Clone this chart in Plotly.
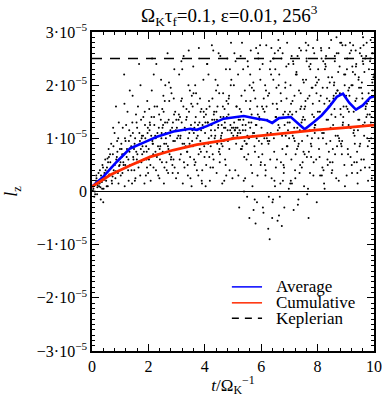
import plotly.graph_objects as go

SCALE = 1e-5

# ---- mean curves (values in units of 1e-5) ----
avg_t = [0, 0.4, 0.88, 1.35, 1.83, 2.3, 2.89, 3.48, 3.72, 4.07, 4.67, 5.03, 5.38, 5.86,
         6.2, 6.39, 6.63, 7.05, 7.54, 7.88, 8.14, 8.41, 8.68, 8.9, 9.12, 9.36, 9.6, 9.87, 10]
avg_v = [0.09, 0.28, 0.56, 0.81, 0.92, 1.03, 1.13, 1.18, 1.16, 1.23, 1.37, 1.40, 1.42, 1.37,
         1.34, 1.29, 1.38, 1.40, 1.17, 1.31, 1.43, 1.59, 1.78, 1.84, 1.67, 1.54, 1.62, 1.77, 1.79]

cum_t = [0, 0.25, 0.64, 1.35, 2.06, 2.89, 3.72, 4.67, 5.03, 6.0, 7.28, 8.0, 9.0, 10]
cum_v = [0.09, 0.18, 0.31, 0.49, 0.65, 0.78, 0.88, 0.96, 1.0, 1.05, 1.12, 1.16, 1.2, 1.25]

keplerian_v = 2.5
t_range = [0, 10]

# ---- particle cloud (units of 1e-5) ----
pA_t = [0.05,0.08,0.12,0.15,0.18,0.22,0.25,0.28,0.31,0.34,0.37,0.41,0.44,0.47,0.5,0.53,0.56,0.59,0.62,0.65,
        0.68,0.71,0.74,0.77,0.8,0.83,0.86,0.89,0.92,0.95,0.98,0.1,0.2,0.3,0.4,0.6,0.7,0.9,0.45,0.85]
pA_y = [0.05,-0.1,0.15,0.3,-0.05,0.2,0.1,0.4,-0.15,0.25,0.5,0.05,0.35,0.6,0.2,0.45,0.1,0.8,0.3,0.55,
        0.9,0.15,0.7,0.4,1.1,0.25,0.6,0.95,0.35,1.3,0.5,0.0,0.12,0.08,-0.2,0.65,0.2,0.75,0.28,1.6]
pB_t = [1.02,1.05,1.09,1.12,1.16,1.19,1.23,1.26,1.3,1.33,1.37,1.4,1.44,1.47,1.51,1.54,1.58,1.61,1.65,1.68,
        1.72,1.75,1.79,1.82,1.86,1.89,1.93,1.96,1.99,1.07,1.21,1.35,1.49,1.63,1.77,1.91,1.14,1.42,1.7,1.98,
        1.28,1.56,1.84,1.11,1.67]
pB_y = [0.3,0.8,1.2,0.5,0.1,0.95,0.65,1.5,0.2,0.75,1.05,0.4,1.8,0.6,0.9,0.25,1.3,0.7,0.45,1.1,
        2.0,0.55,0.85,1.4,0.15,1.0,0.6,1.7,0.35,0.7,1.25,0.5,0.8,1.6,1.05,0.3,2.2,0.15,0.95,1.2,
        0.4,1.45,0.75,0.55,2.4]
pC_t = [2.02,2.05,2.08,2.12,2.15,2.18,2.22,2.25,2.28,2.32,2.35,2.38,2.42,2.45,2.48,2.52,2.55,2.58,2.62,2.65,
        2.68,2.72,2.75,2.78,2.82,2.85,2.88,2.92,2.95,2.98,2.1,2.3,2.5,2.7,2.9,2.2,2.4,2.6,2.8,2.03,
        2.47,2.63,2.87,2.13,2.57]
pC_y = [0.6,1.3,0.2,1.9,0.9,0.45,1.6,0.75,2.4,1.1,0.3,1.45,0.85,2.1,0.55,1.25,0.15,1.7,1.0,0.4,
        2.6,1.35,0.7,1.15,1.85,0.5,0.95,2.3,1.5,0.25,1.05,0.65,1.2,0.35,1.75,1.4,0.8,2.0,0.6,1.55,
        1.1,0.9,1.3,2.5,0.45]
pD_t = [3.02,3.05,3.09,3.12,3.15,3.19,3.22,3.25,3.29,3.32,3.35,3.39,3.42,3.45,3.49,3.52,3.55,3.59,3.62,3.65,
        3.69,3.72,3.75,3.79,3.82,3.85,3.89,3.92,3.95,3.99,3.07,3.27,3.47,3.67,3.87,3.17,3.37,3.57,3.77,3.97,
        3.13,3.53,3.83,3.43,3.63]
pD_y = [1.0,0.35,2.2,1.4,0.7,1.75,0.15,2.55,1.2,0.85,1.55,0.5,2.0,1.1,0.25,1.65,0.95,2.35,0.6,1.3,
        1.85,0.4,1.05,2.7,0.8,1.5,0.2,1.25,2.1,0.65,1.35,0.9,1.9,0.55,1.15,2.45,0.75,1.6,0.3,1.4,
        1.0,0.1,1.75,2.65,1.2]
pE_t = [4.02,4.05,4.08,4.12,4.15,4.18,4.22,4.25,4.28,4.32,4.35,4.38,4.42,4.45,4.48,4.52,4.55,4.58,4.62,4.65,
        4.68,4.72,4.75,4.78,4.82,4.85,4.88,4.92,4.95,4.98,4.1,4.3,4.5,4.7,4.9,4.2,4.4,4.6,4.8,4.03,
        4.23,4.43,4.63,4.83,4.13,4.53,4.73,4.93,4.33,4.57]
pE_y = [1.3,0.5,2.4,0.9,1.7,0.2,1.15,2.75,0.7,1.45,1.0,2.1,0.35,1.6,1.25,0.8,2.55,1.05,0.15,1.85,
        1.2,0.6,2.3,1.4,0.95,1.75,0.4,2.0,1.1,0.25,1.3,2.65,0.75,1.55,1.15,0.45,1.9,1.25,2.5,0.1,
        1.05,1.35,0.85,1.65,2.2,0.55,1.2,2.8,1.5,1.0]
pF_t = [5.02,5.05,5.08,5.12,5.15,5.18,5.22,5.25,5.28,5.32,5.35,5.38,5.42,5.45,5.48,5.52,5.55,5.58,5.62,5.65,
        5.68,5.72,5.75,5.78,5.82,5.85,5.88,5.92,5.95,5.98,5.1,5.3,5.5,5.7,5.9,5.2,5.4,5.6,5.8,5.03,
        5.23,5.43,5.63,5.83,5.13,5.33,5.53,5.73,5.93,5.17,5.47,5.67,5.87,5.27,5.57]
pF_y = [1.2,2.6,0.4,1.6,1.05,2.2,-0.3,1.35,0.8,2.8,1.15,0.2,1.9,1.25,0.6,2.45,1.0,-0.5,1.7,1.3,
        0.35,2.05,1.1,0.75,2.7,-0.2,1.45,0.95,2.3,0.5,1.2,1.8,-0.1,1.05,2.5,1.35,0.65,1.55,-0.6,2.0,
        1.15,0.25,2.65,1.25,1.6,0.85,2.35,-0.35,1.4,1.1,0.9,1.95,0.3,2.55,1.0]
pG_t = [6.02,6.05,6.08,6.12,6.15,6.18,6.22,6.25,6.28,6.32,6.35,6.38,6.42,6.45,6.48,6.52,6.55,6.58,6.62,6.65,
        6.68,6.72,6.75,6.78,6.82,6.85,6.88,6.92,6.95,6.98,6.1,6.3,6.5,6.7,6.9,6.2,6.4,6.6,6.8,6.03,
        6.23,6.43,6.63,6.83,6.13,6.33,6.53,6.73,6.93,6.17,6.47,6.67,6.87,6.27,6.57]
pG_y = [0.9,2.4,-0.4,1.5,0.3,2.75,1.1,-0.7,1.85,0.6,2.2,1.3,-0.15,1.0,2.6,0.45,1.65,-0.55,2.0,1.2,
        0.15,2.5,0.8,1.45,-0.3,1.95,0.7,2.8,1.15,0.05,1.35,-0.9,2.3,0.55,1.75,1.0,-0.2,2.65,0.35,1.6,
        0.95,2.1,-0.45,1.25,0.5,2.45,1.4,-0.65,0.85,1.9,0.2,2.7,1.05,-0.1,1.55]
pH_t = [7.02,7.05,7.08,7.12,7.15,7.18,7.22,7.25,7.28,7.32,7.35,7.38,7.42,7.45,7.48,7.52,7.55,7.58,7.62,7.65,
        7.68,7.72,7.75,7.78,7.82,7.85,7.88,7.92,7.95,7.98,7.1,7.3,7.5,7.7,7.9,7.2,7.4,7.6,7.8,7.03,
        7.23,7.43,7.63,7.83,7.13,7.33,7.53,7.73,7.93,7.17,7.47,7.67,7.87,7.27,7.57]
pH_y = [1.5,0.2,2.55,1.05,-0.35,1.8,0.7,2.25,1.2,-0.15,2.7,0.5,1.6,0.95,2.1,0.1,1.35,2.8,0.65,1.75,
        -0.5,1.15,2.4,0.85,1.95,0.3,2.6,1.25,0.6,2.05,1.45,-0.25,0.75,2.35,1.1,0.4,1.85,2.65,1.0,0.15,
        2.2,1.3,-0.05,1.65,2.45,0.9,1.55,0.35,2.0,1.2,0.55,2.75,1.4,0.8,1.7]
pI_t = [8.02,8.05,8.08,8.12,8.15,8.18,8.22,8.25,8.28,8.32,8.35,8.38,8.42,8.45,8.48,8.52,8.55,8.58,8.62,8.65,
        8.68,8.72,8.75,8.78,8.82,8.85,8.88,8.92,8.95,8.98,8.1,8.3,8.5,8.7,8.9,8.2,8.4,8.6,8.8,8.03,
        8.23,8.43,8.63,8.83,8.13,8.33,8.53,8.73,8.93,8.17,8.47,8.67,8.87,8.27,8.57]
pI_y = [2.3,0.8,1.5,2.7,0.3,1.95,1.1,0.05,2.5,1.35,0.6,2.15,1.7,0.95,2.85,0.4,1.25,2.0,0.7,1.85,
        2.6,1.05,0.2,2.35,1.45,0.85,2.75,1.6,0.5,2.2,1.15,2.55,0.35,1.9,1.3,2.45,0.75,1.55,2.8,1.0,
        0.15,2.05,1.4,0.9,2.65,1.75,0.55,2.25,1.2,0.45,1.65,2.9,0.95,2.4,1.8]
pJ_t = [9.02,9.05,9.08,9.12,9.15,9.18,9.22,9.25,9.28,9.32,9.35,9.38,9.42,9.45,9.48,9.52,9.55,9.58,9.62,9.65,
        9.68,9.72,9.75,9.78,9.82,9.85,9.88,9.92,9.95,9.98,9.1,9.3,9.5,9.7,9.9,9.2,9.4,9.6,9.8,9.03,
        9.23,9.43,9.63,9.83,9.13,9.33,9.53,9.73,9.93,9.17,9.47,9.67,9.87,9.27,9.57]
pJ_y = [1.6,2.5,0.7,1.95,2.8,1.2,0.35,2.25,1.5,0.9,2.65,1.75,0.15,2.1,1.35,2.7,0.6,1.85,2.4,1.05,
        0.45,2.55,1.65,0.85,2.3,1.45,2.85,0.25,1.9,2.15,1.25,0.55,2.6,1.55,1.0,2.0,0.75,2.45,1.7,0.3,
        2.35,1.15,2.75,0.95,1.8,2.2,0.4,1.4,2.6,0.65,1.95,1.3,2.5,1.1,2.05]

# second batch, denser band around the mean
qA_t = [0.03,0.07,0.11,0.14,0.19,0.23,0.27,0.32,0.36,0.39,0.43,0.48,0.52,0.57,0.61,0.64,0.69,0.73,0.76,0.81,
        0.84,0.88,0.93,0.96,0.99,0.16,0.35,0.55,0.75,0.94]
qA_y = [0.02,0.12,-0.05,0.2,0.08,0.35,0.15,0.3,0.05,0.45,0.22,0.4,0.1,0.55,0.32,0.7,0.45,0.28,0.85,0.5,
        0.38,0.65,1.0,0.48,0.8,0.25,0.18,0.62,1.2,0.15]
qB_t = [1.01,1.04,1.08,1.13,1.17,1.2,1.24,1.29,1.32,1.36,1.39,1.43,1.46,1.5,1.53,1.57,1.6,1.64,1.69,1.71,
        1.74,1.78,1.81,1.85,1.88,1.92,1.95,1.97,1.06,1.18,1.31,1.45,1.59,1.73,1.87,1.15,1.34,1.52,1.76,1.94]
qB_y = [0.55,0.9,0.35,0.7,1.0,0.45,0.8,0.6,1.15,0.5,0.85,1.3,0.65,0.4,1.0,0.75,1.2,0.55,0.9,0.3,
        1.35,0.7,1.05,0.6,1.25,0.85,0.45,1.1,0.65,0.5,0.95,1.1,0.6,0.8,1.5,1.65,1.9,0.2,1.0,0.75]
qC_t = [2.01,2.04,2.07,2.11,2.14,2.17,2.21,2.24,2.27,2.31,2.34,2.37,2.41,2.44,2.46,2.51,2.54,2.56,2.61,2.64,
        2.67,2.71,2.74,2.77,2.81,2.84,2.86,2.91,2.94,2.97,2.06,2.16,2.26,2.36,2.49,2.59,2.69,2.79,2.89,2.99,
        2.19,2.39,2.53,2.73,2.93]
qC_y = [0.8,1.15,0.5,1.4,0.95,0.7,1.25,1.05,0.4,1.6,0.85,1.2,0.6,1.35,1.0,0.75,1.5,0.9,1.1,0.55,
        1.3,0.8,1.7,1.05,0.65,1.2,0.35,1.45,0.95,1.15,1.25,0.9,1.0,0.7,1.55,1.3,0.85,1.95,0.6,1.35,
        2.2,0.25,1.8,2.05,0.45]
qD_t = [3.01,3.04,3.08,3.11,3.14,3.18,3.21,3.24,3.28,3.31,3.34,3.38,3.41,3.44,3.48,3.51,3.54,3.58,3.61,3.64,
        3.68,3.71,3.74,3.78,3.81,3.84,3.88,3.91,3.94,3.98,3.06,3.16,3.26,3.36,3.46,3.56,3.66,3.76,3.86,3.96,
        3.2,3.4,3.6,3.8,3.9]
qD_y = [1.2,0.8,1.45,0.6,1.05,1.3,0.9,1.6,0.45,1.15,1.35,0.75,1.0,1.5,0.65,1.25,1.8,0.85,1.1,0.5,
        1.4,1.0,1.65,0.7,1.3,0.95,1.55,0.4,1.2,0.85,1.05,1.7,0.55,1.4,0.9,1.15,2.0,1.25,0.75,1.5,
        2.3,0.3,1.85,2.5,0.15]
qE_t = [4.01,4.04,4.07,4.11,4.14,4.17,4.21,4.24,4.27,4.31,4.34,4.37,4.41,4.44,4.47,4.51,4.54,4.56,4.61,4.64,
        4.67,4.71,4.74,4.77,4.81,4.84,4.87,4.91,4.94,4.97,4.06,4.16,4.26,4.36,4.46,4.59,4.66,4.76,4.86,4.96,
        4.09,4.29,4.49,4.69,4.89]
qE_y = [1.1,1.45,0.75,1.3,1.0,1.6,0.85,1.25,1.75,0.6,1.35,1.05,1.5,0.9,1.2,1.85,0.7,1.4,1.1,1.6,
        0.95,1.3,0.5,1.7,1.15,1.45,0.8,1.25,2.1,1.0,1.55,0.65,1.35,1.15,2.0,0.9,1.4,0.3,1.8,1.2,
        2.4,0.45,2.6,0.2,2.3]
qF_t = [5.01,5.04,5.07,5.11,5.14,5.16,5.21,5.24,5.26,5.31,5.34,5.37,5.41,5.44,5.46,5.51,5.54,5.56,5.61,5.64,
        5.66,5.71,5.74,5.76,5.81,5.84,5.86,5.91,5.94,5.97,5.06,5.19,5.29,5.36,5.49,5.59,5.69,5.79,5.89,5.99,
        5.09,5.39,5.61,5.77,5.96]
qF_y = [1.05,1.3,1.15,0.9,1.4,1.2,1.0,1.55,1.1,0.8,1.25,1.35,0.95,1.15,1.7,1.05,0.7,1.3,1.2,0.5,
        1.45,1.1,1.9,0.85,1.25,1.0,1.6,0.65,1.35,2.1,1.15,0.3,1.5,2.3,0.9,2.0,0.1,1.75,2.6,0.55,
        2.45,0.0,2.2,-0.15,2.75]
qG_t = [6.01,6.04,6.07,6.11,6.14,6.16,6.21,6.24,6.26,6.31,6.34,6.37,6.41,6.44,6.46,6.51,6.54,6.56,6.61,6.64,
        6.66,6.71,6.74,6.76,6.81,6.84,6.86,6.91,6.94,6.97,6.06,6.19,6.29,6.36,6.49,6.59,6.69,6.79,6.89,6.99,
        6.09,6.39,6.61,6.77,6.96]
qG_y = [1.2,0.7,1.55,1.0,2.0,0.4,1.35,1.8,0.9,2.3,1.1,0.25,1.65,2.5,0.75,1.4,1.95,0.6,1.25,2.2,
        -0.1,1.7,1.05,2.6,0.45,1.5,2.05,0.85,1.3,2.4,-0.3,1.6,0.95,2.7,0.1,1.15,1.85,0.5,2.35,1.0,
        1.75,-0.5,2.85,0.2,1.45]
qH_t = [7.01,7.04,7.07,7.11,7.14,7.16,7.21,7.24,7.26,7.31,7.34,7.37,7.41,7.44,7.46,7.51,7.54,7.56,7.61,7.64,
        7.66,7.71,7.74,7.76,7.81,7.84,7.86,7.91,7.94,7.97,7.06,7.19,7.29,7.36,7.49,7.59,7.69,7.79,7.89,7.99,
        7.09,7.39,7.61,7.77,7.96]
qH_y = [1.3,2.0,0.6,1.7,2.4,1.0,0.25,1.5,2.2,0.85,1.9,1.15,2.65,0.45,1.35,2.05,0.7,1.6,2.5,1.05,
        0.05,1.8,2.3,0.9,1.45,2.7,0.55,1.25,2.15,-0.2,1.65,0.95,2.55,0.35,1.4,2.1,0.75,1.95,1.2,2.85,
        0.15,1.55,2.45,0.65,1.85]
qI_t = [8.01,8.04,8.07,8.11,8.14,8.16,8.21,8.24,8.26,8.31,8.34,8.37,8.41,8.44,8.46,8.51,8.54,8.56,8.61,8.64,
        8.66,8.71,8.74,8.76,8.81,8.84,8.86,8.91,8.94,8.97,8.06,8.19,8.29,8.36,8.49,8.59,8.69,8.79,8.89,8.99,
        8.09,8.39,8.61,8.77,8.96]
qI_y = [1.5,2.1,0.65,1.8,2.5,1.1,0.4,1.65,2.3,0.9,1.95,1.35,2.7,0.55,1.2,2.15,0.8,1.75,2.45,1.05,
        0.25,1.9,2.6,1.0,1.55,2.8,0.7,1.4,2.2,0.1,1.7,1.0,2.35,0.5,1.45,2.05,0.85,1.85,1.25,2.75,
        0.3,1.6,2.55,0.95,2.0]
qJ_t = [9.01,9.04,9.07,9.11,9.14,9.16,9.21,9.24,9.26,9.31,9.34,9.37,9.41,9.44,9.46,9.51,9.54,9.56,9.61,9.64,
        9.66,9.71,9.74,9.76,9.81,9.84,9.86,9.91,9.94,9.97,9.06,9.19,9.29,9.36,9.49,9.59,9.69,9.79,9.89,9.99,
        9.09,9.39,9.61,9.77,9.96]
qJ_y = [1.8,2.3,0.8,1.5,2.6,1.2,0.5,2.0,2.75,1.05,1.7,2.4,0.35,1.35,2.15,0.9,1.95,2.55,1.25,0.6,
        2.25,1.6,2.8,1.0,1.85,0.45,2.45,1.4,2.05,0.7,1.55,2.65,1.15,2.35,0.85,1.75,2.5,0.2,1.3,2.2,
        1.9,0.55,2.9,1.45,2.6]

groups = [(pA_t, pA_y), (pB_t, pB_y), (pC_t, pC_y), (pD_t, pD_y), (pE_t, pE_y),
          (pF_t, pF_y), (pG_t, pG_y), (pH_t, pH_y), (pI_t, pI_y), (pJ_t, pJ_y),
          (qA_t, qA_y), (qB_t, qB_y), (qC_t, qC_y), (qD_t, qD_y), (qE_t, qE_y),
          (qF_t, qF_y), (qG_t, qG_y), (qH_t, qH_y), (qI_t, qI_y), (qJ_t, qJ_y)]
cloud_t, cloud_y = [], []
for ts, ys in groups:
    for a, b in zip(ts, ys):
        cloud_t.append(a)
        cloud_y.append(b * SCALE)

y_tickvals = [-3, -2, -1, 0, 1, 2, 3]
y_ticktext = ["\u22123\u00b710<sup>\u22125</sup>", "\u22122\u00b710<sup>\u22125</sup>",
              "\u22121\u00b710<sup>\u22125</sup>", "0", "1\u00b710<sup>\u22125</sup>",
              "2\u00b710<sup>\u22125</sup>", "3\u00b710<sup>\u22125</sup>"]
x_tickvals = [0, 2, 4, 6, 8, 10]

legend_names = ["Average", "Cumulative", "Keplerian"]
legend_colors = ["#0000ff", "#ff2a00", "black"]
legend_dash = ["solid", "solid", "7px,6px"]

FONT = "Liberation Serif, Times New Roman, DejaVu Serif, serif"

fig = go.Figure()
fig.add_trace(go.Scatter(x=cloud_t, y=cloud_y, mode="markers",
                         marker=dict(color="black", size=2, line=dict(width=0)),
                         showlegend=False, hoverinfo="skip"))
fig.add_trace(go.Scatter(x=avg_t, y=[v * SCALE for v in avg_v], mode="lines", name=legend_names[0],
                         line=dict(color=legend_colors[0], width=2.6), showlegend=False))
fig.add_trace(go.Scatter(x=cum_t, y=[v * SCALE for v in cum_v], mode="lines", name=legend_names[1],
                         line=dict(color=legend_colors[1], width=2.8), showlegend=False))
fig.add_trace(go.Scatter(x=t_range, y=[keplerian_v * SCALE] * 2, mode="lines", name=legend_names[2],
                         line=dict(color="black", width=1.5, dash="10px,8px"), showlegend=False))

# compact legend (key lines + labels) in paper coordinates
leg_x0, leg_x1, leg_tx = 0.496, 0.603, 0.645
leg_y = [0.201, 0.151, 0.103]
for name, col, dsh, yy in zip(legend_names, legend_colors, legend_dash, leg_y):
    fig.add_shape(type="line", xref="paper", yref="paper", x0=leg_x0, x1=leg_x1, y0=yy, y1=yy,
                  line=dict(color=col, width=1.5, dash=dsh))
    fig.add_annotation(xref="paper", yref="paper", x=leg_tx, y=yy, text=name, showarrow=False,
                       xanchor="left", yanchor="middle",
                       font=dict(family=FONT, size=17, color="black"))

axis_common = dict(showline=True, linecolor="black", linewidth=1.5, mirror="ticks",
                   ticks="inside", tickcolor="black", tickwidth=1.2, showgrid=False,
                   automargin=False, tickfont=dict(family=FONT, size=16, color="black"))

fig.update_layout(
    width=382, height=405,
    margin=dict(l=92, r=8, t=32, b=54),
    plot_bgcolor="white", paper_bgcolor="white",
    font=dict(family=FONT, color="black", size=16),
    title=dict(text="\u03a9<sub>K</sub>\u03c4<sub>f</sub>=0.1, \u03b5=0.01, 256<sup>3</sup>",
               x=0.6, xanchor="center", y=0.962, yanchor="middle",
               font=dict(family=FONT, size=19, color="black")),
    xaxis=dict(range=t_range, tickvals=x_tickvals, ticklen=7,
               minor=dict(dtick=0.4, ticklen=3.5, ticks="inside", tickcolor="black", tickwidth=1),
               title=dict(text="<i>t</i>/\u03a9<sub>K</sub><sup>\u22121</sup>", standoff=5,
                          font=dict(family=FONT, size=17)),
               **axis_common),
    yaxis=dict(range=[-3 * SCALE, 3 * SCALE], tickvals=[v * SCALE for v in y_tickvals],
               ticktext=y_ticktext, ticklen=7,
               minor=dict(dtick=0.1 * SCALE, ticklen=3.5, ticks="inside", tickcolor="black", tickwidth=1),
               zeroline=True, zerolinecolor="black", zerolinewidth=1,
               title=dict(text="<i>l</i><sub>z</sub>", standoff=14, font=dict(family=FONT, size=18)),
               **axis_common),
)

fig.write_html("out.html", config={"displayModeBar": False},
               post_script="document.body.style.margin='0px';")
